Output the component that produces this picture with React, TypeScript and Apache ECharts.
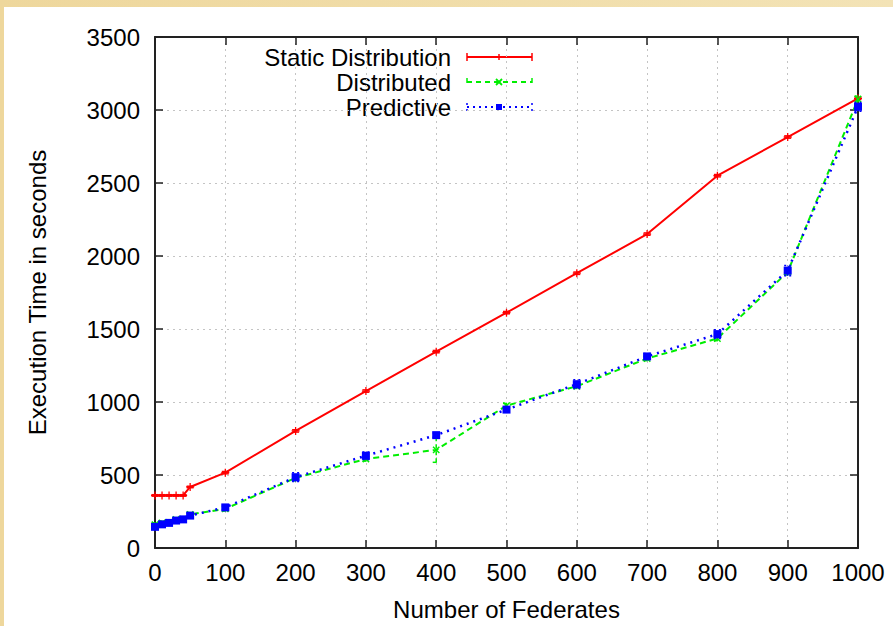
import React, { useEffect, useRef } from "react";
import * as echarts from "echarts";

const federates = [0, 10, 20, 30, 40, 50, 100, 200, 300, 400, 500, 600, 700, 800, 900, 1000];
const staticDist = [360, 360, 360, 360, 360, 418, 516, 802, 1075, 1345, 1612, 1882, 2150, 2550, 2815, 3080];
const distributed = [160, 172, 175, 195, 198, 230, 268, 480, 610, 672, 975, 1108, 1298, 1435, 1890, 3075];
const predictive = [145, 162, 172, 188, 196, 222, 278, 485, 632, 773, 948, 1122, 1312, 1465, 1900, 3022];
const staticErr = [5, 5, 5, 5, 5, 5, 8, 8, 8, 8, 8, 8, 8, 8, 8, 8];
const distributedErr = [12, 12, 12, 12, 12, 12, 15, 20, 15, 85, 15, 15, 15, 15, 20, 20];
const predictiveErr = [12, 12, 12, 12, 12, 12, 15, 30, 25, 15, 15, 30, 20, 30, 35, 30];

const seriesNames = ["Static Distribution", "Distributed", "Predictive"];
const colors = ["#ff0000", "#00ee00", "#0000ff"];
const FONT = "Liberation Sans, Arial, Helvetica, sans-serif";

const plusPath = "path://M0,4.2L10,4.2L10,5.8L0,5.8Z M4.2,0L5.8,0L5.8,10L4.2,10Z";

function errorSeries(values: number[], errs: number[], color: string, dash: number[] | "solid", z: number) {
  return {
    type: "custom",
    silent: true,
    z,
    data: federates.map((x, i) => [x, values[i] - errs[i], values[i] + errs[i]]),
    renderItem: (params: any, api: any) => {
      const lo = api.coord([api.value(0), api.value(1)]);
      const hi = api.coord([api.value(0), api.value(2)]);
      const style = { stroke: color, lineWidth: 1.5, lineDash: dash === "solid" ? null : dash };
      const w = 3.5;
      return {
        type: "group",
        children: [
          { type: "line", shape: { x1: lo[0], y1: lo[1], x2: hi[0], y2: hi[1] }, style },
          { type: "line", shape: { x1: lo[0] - w, y1: lo[1], x2: lo[0] + w, y2: lo[1] }, style },
          { type: "line", shape: { x1: hi[0] - w, y1: hi[1], x2: hi[0] + w, y2: hi[1] }, style },
        ],
      };
    },
  };
}

function legendRow(i: number, y: number, dash: number[] | null, marker: any[]) {
  const c = colors[i];
  const x1 = 467;
  const x2 = 532;
  return [
    {
      type: "text",
      x: 451,
      y,
      style: { text: seriesNames[i], font: `24px ${FONT}`, fill: "#000", align: "right", verticalAlign: "middle" },
    },
    { type: "line", shape: { x1, y1: y, x2, y2: y }, style: { stroke: c, lineWidth: 2, lineDash: dash } },
    { type: "line", shape: { x1, y1: y - 4, x2: x1, y2: y + 4 }, style: { stroke: c, lineWidth: 1.5, lineDash: dash } },
    { type: "line", shape: { x1: x2, y1: y - 4, x2, y2: y + 4 }, style: { stroke: c, lineWidth: 1.5, lineDash: dash } },
    ...marker,
  ];
}

export default function App() {
  const ref = useRef<HTMLDivElement>(null);
  useEffect(() => {
    if (!ref.current) return;
    const chart = echarts.init(ref.current, null, { renderer: "svg" });
    const axisLine = { show: true, onZero: false, lineStyle: { color: "#222", width: 2 } };
    const tick = { show: true, inside: true, length: 8, lineStyle: { color: "#222", width: 1.5 } };
    const split = { show: true, lineStyle: { color: "#c4c4c4", width: 1, type: [2, 4] } };
    const label = { color: "#000", fontSize: 24, fontFamily: FONT, formatter: (v: number) => String(v) };
    const mx = 499;
    chart.setOption({
      animation: false,
      backgroundColor: new echarts.graphic.LinearGradient(1, 0, 0, 0, [
        { offset: 0, color: "#f3e3b6" },
        { offset: 1, color: "#eed79c" },
      ]),
      graphic: [
        { type: "rect", z: -10, shape: { x: 4, y: 7, width: 889, height: 619 }, style: { fill: "#ffffff" } },
        ...legendRow(0, 57, null, [
          { type: "line", shape: { x1: mx - 3, y1: 57, x2: mx + 3, y2: 57 }, style: { stroke: colors[0], lineWidth: 1.5 } },
          { type: "line", shape: { x1: mx, y1: 54, x2: mx, y2: 60 }, style: { stroke: colors[0], lineWidth: 1.5 } },
        ]),
        ...legendRow(1, 82, [5, 4], [
          { type: "line", shape: { x1: mx - 3, y1: 79, x2: mx + 3, y2: 85 }, style: { stroke: colors[1], lineWidth: 1.8 } },
          { type: "line", shape: { x1: mx - 3, y1: 85, x2: mx + 3, y2: 79 }, style: { stroke: colors[1], lineWidth: 1.8 } },
        ]),
        ...legendRow(2, 107, [2, 4], [
          { type: "rect", shape: { x: mx - 3, y: 104, width: 6, height: 6 }, style: { fill: colors[2] } },
        ]),
      ],
      grid: { left: 155, right: 35, top: 37, bottom: 69, containLabel: false },
      xAxis: [
        {
          type: "value",
          min: 0,
          max: 1000,
          interval: 100,
          position: "bottom",
          name: "Number of Federates",
          nameLocation: "middle",
          nameGap: 49,
          nameTextStyle: { color: "#000", fontSize: 24, fontFamily: FONT },
          axisLine,
          axisTick: tick,
          splitLine: split,
          axisLabel: { ...label, margin: 12 },
        },
        {
          type: "value",
          min: 0,
          max: 1000,
          interval: 100,
          position: "top",
          axisLine,
          axisTick: tick,
          splitLine: { show: false },
          axisLabel: { show: false },
        },
      ],
      yAxis: [
        {
          type: "value",
          min: 0,
          max: 3500,
          interval: 500,
          position: "left",
          name: "Execution Time in seconds",
          nameLocation: "middle",
          nameGap: 106,
          nameRotate: 90,
          nameTextStyle: { color: "#000", fontSize: 24, fontFamily: FONT },
          axisLine,
          axisTick: tick,
          splitLine: split,
          axisLabel: { ...label, margin: 15 },
        },
        {
          type: "value",
          min: 0,
          max: 3500,
          interval: 500,
          position: "right",
          axisLine,
          axisTick: tick,
          splitLine: { show: false },
          axisLabel: { show: false },
        },
      ],
      series: [
        errorSeries(staticDist, staticErr, colors[0], "solid", 3),
        errorSeries(distributed, distributedErr, colors[1], [4, 3], 4),
        errorSeries(predictive, predictiveErr, colors[2], [2, 3], 5),
        {
          name: seriesNames[0],
          type: "line",
          z: 3,
          data: federates.map((x, i) => [x, staticDist[i]]),
          symbol: plusPath,
          symbolSize: 8,
          showAllSymbol: true,
          lineStyle: { color: colors[0], width: 2 },
          itemStyle: { color: colors[0] },
        },
        {
          name: seriesNames[1],
          type: "line",
          z: 4,
          data: federates.map((x, i) => [x, distributed[i]]),
          symbol: plusPath,
          symbolRotate: 45,
          symbolSize: 9,
          showAllSymbol: true,
          lineStyle: { color: colors[1], width: 2, type: [6, 4] },
          itemStyle: { color: colors[1] },
        },
        {
          name: seriesNames[2],
          type: "line",
          z: 5,
          data: federates.map((x, i) => [x, predictive[i]]),
          symbol: "rect",
          symbolSize: 8,
          showAllSymbol: true,
          lineStyle: { color: colors[2], width: 2.5, type: [2, 5] },
          itemStyle: { color: colors[2] },
        },
      ],
    });
    return () => chart.dispose();
  }, []);
  return (
    <div
      ref={ref}
      style={{ position: "fixed", left: 0, top: 0, width: 893, height: 626 }}
    />
  );
}
